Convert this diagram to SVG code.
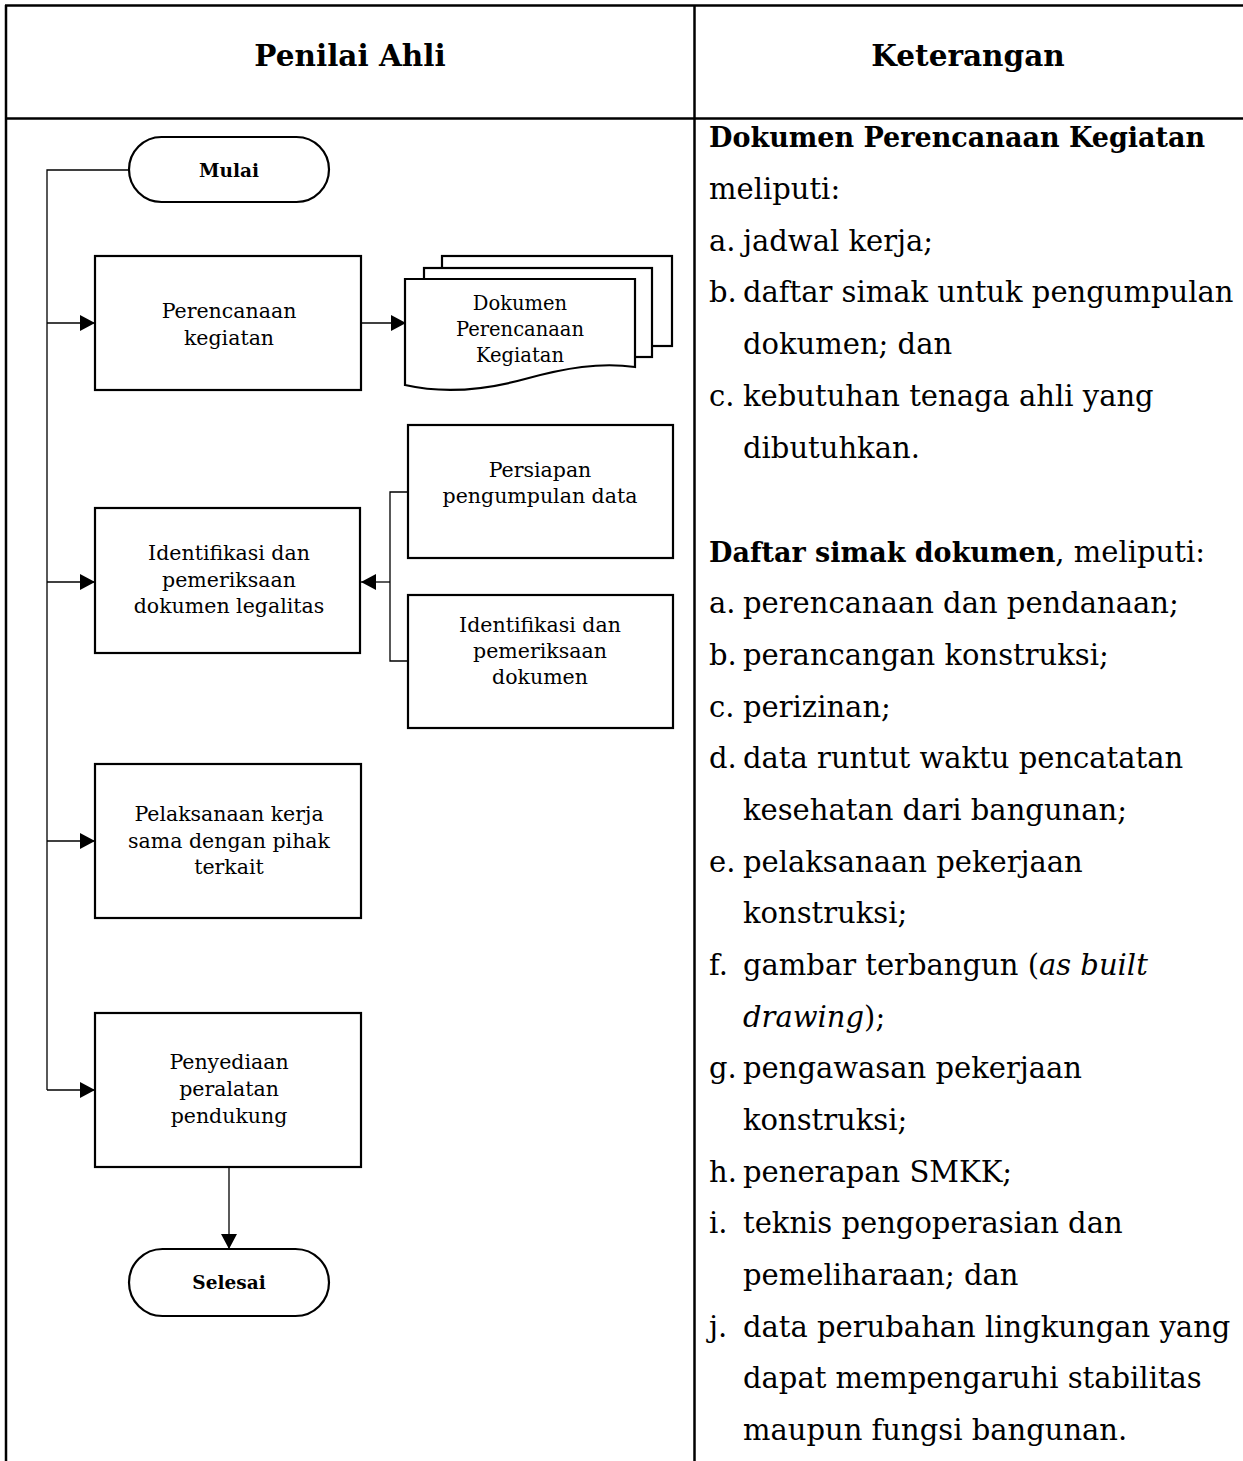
<svg xmlns="http://www.w3.org/2000/svg" width="1243" height="1461" viewBox="0 0 1243 1461">
<style>
.tbl{stroke:#000;stroke-width:2.5;fill:none}
.box{fill:#fff;stroke:#000;stroke-width:2.2}
.con{fill:none;stroke:#000;stroke-width:1.3}
.hd{font-family:"DejaVu Serif",serif;font-weight:bold;font-size:29.5px;text-anchor:middle}
.bt{font-family:"DejaVu Serif",serif;font-size:20.5px;text-anchor:middle}
.dt{font-family:"DejaVu Serif",serif;font-size:19.5px;text-anchor:middle}
.tb{font-family:"DejaVu Serif",serif;font-weight:bold;font-size:18.5px;text-anchor:middle}
.rt{font-family:"DejaVu Serif",serif;font-size:29px}
.b{font-weight:bold;font-size:27px}
.i{font-style:italic}
</style>
<defs>
<marker id="ah" markerUnits="userSpaceOnUse" markerWidth="15" markerHeight="16" refX="15" refY="8" orient="auto">
<path d="M0,0 L15,8 L0,16 Z" fill="#000"/>
</marker>
</defs>
<g id="table">
<line class="tbl" x1="5" y1="5.5" x2="1243" y2="5.5"/>
<line class="tbl" x1="5" y1="118.5" x2="1243" y2="118.5"/>
<line class="tbl" x1="6" y1="5" x2="6" y2="1461"/>
<line class="tbl" x1="694.5" y1="5" x2="694.5" y2="1461"/>
<text class="hd" x="350" y="66">Penilai Ahli</text>
<text class="hd" x="968" y="66">Keterangan</text>
</g>
<g id="connectors">
<path class="con" d="M129,170 H47 V1090"/>
<line class="con" x1="47" y1="323" x2="95" y2="323" marker-end="url(#ah)"/>
<line class="con" x1="47" y1="582" x2="95" y2="582" marker-end="url(#ah)"/>
<line class="con" x1="47" y1="841" x2="95" y2="841" marker-end="url(#ah)"/>
<line class="con" x1="47" y1="1090" x2="95" y2="1090" marker-end="url(#ah)"/>
<line class="con" x1="362" y1="323" x2="406" y2="323" marker-end="url(#ah)"/>
<path class="con" d="M408,492 H390 V661 H408"/>
<line class="con" x1="390" y1="582" x2="361" y2="582" marker-end="url(#ah)"/>
<line class="con" x1="229" y1="1167" x2="229" y2="1249" marker-end="url(#ah)"/>
</g>
<g id="mulai">
<rect class="box" x="129" y="137" width="200" height="65" rx="32.5"/>
<text class="tb" x="229" y="177">Mulai</text>
</g>
<g id="perencanaan">
<rect class="box" x="95" y="256" width="266" height="134"/>
<text class="bt" x="229" y="318">Perencanaan</text>
<text class="bt" x="229" y="344.5">kegiatan</text>
</g>
<g id="dokumen">
<rect class="box" x="442" y="256" width="230" height="90"/>
<rect class="box" x="424" y="268" width="228" height="89"/>
<path class="box" d="M405,279 H635 V367 C600,362 565,368 525,379 C485,390 445,394 405,385 Z"/>
<text class="dt" x="520" y="310">Dokumen</text>
<text class="dt" x="520" y="336">Perencanaan</text>
<text class="dt" x="520" y="362">Kegiatan</text>
</g>
<g id="persiapan">
<rect class="box" x="408" y="425" width="265" height="133"/>
<text class="bt" x="540" y="477">Persiapan</text>
<text class="bt" x="540" y="503">pengumpulan data</text>
</g>
<g id="identifikasi-dokumen">
<rect class="box" x="408" y="595" width="265" height="133"/>
<text class="bt" x="540" y="632">Identifikasi dan</text>
<text class="bt" x="540" y="658">pemeriksaan</text>
<text class="bt" x="540" y="684">dokumen</text>
</g>
<g id="identifikasi-legalitas">
<rect class="box" x="95" y="508" width="265" height="145"/>
<text class="bt" x="229" y="560">Identifikasi dan</text>
<text class="bt" x="229" y="586.5">pemeriksaan</text>
<text class="bt" x="229" y="613">dokumen legalitas</text>
</g>
<g id="pelaksanaan">
<rect class="box" x="95" y="764" width="266" height="154"/>
<text class="bt" x="229" y="821">Pelaksanaan kerja</text>
<text class="bt" x="229" y="847.5">sama dengan pihak</text>
<text class="bt" x="229" y="874">terkait</text>
</g>
<g id="penyediaan">
<rect class="box" x="95" y="1013" width="266" height="154"/>
<text class="bt" x="229" y="1069">Penyediaan</text>
<text class="bt" x="229" y="1096">peralatan</text>
<text class="bt" x="229" y="1123">pendukung</text>
</g>
<g id="selesai">
<rect class="box" x="129" y="1249" width="200" height="67" rx="33.5"/>
<text class="tb" x="229" y="1289">Selesai</text>
</g>
<g id="keterangan">
<text class="rt b" x="709" y="147">Dokumen Perencanaan Kegiatan</text>
<text class="rt" x="709" y="199">meliputi:</text>
<text class="rt" x="709" y="250.5">a.</text><text class="rt" x="743" y="250.5">jadwal kerja;</text>
<text class="rt" x="709" y="302">b.</text><text class="rt" x="743" y="302">daftar simak untuk pengumpulan</text>
<text class="rt" x="743" y="354">dokumen; dan</text>
<text class="rt" x="709" y="406">c.</text><text class="rt" x="743" y="406">kebutuhan tenaga ahli yang</text>
<text class="rt" x="743" y="457.5">dibutuhkan.</text>
<text class="rt" x="709" y="561.5"><tspan class="b">Daftar simak dokumen</tspan>, meliputi:</text>
<text class="rt" x="709" y="613">a.</text><text class="rt" x="743" y="613">perencanaan dan pendanaan;</text>
<text class="rt" x="709" y="665">b.</text><text class="rt" x="743" y="665">perancangan konstruksi;</text>
<text class="rt" x="709" y="716.5">c.</text><text class="rt" x="743" y="716.5">perizinan;</text>
<text class="rt" x="709" y="768">d.</text><text class="rt" x="743" y="768">data runtut waktu pencatatan</text>
<text class="rt" x="743" y="820">kesehatan dari bangunan;</text>
<text class="rt" x="709" y="871.5">e.</text><text class="rt" x="743" y="871.5">pelaksanaan pekerjaan</text>
<text class="rt" x="743" y="923">konstruksi;</text>
<text class="rt" x="709" y="975">f.</text><text class="rt" x="743" y="975">gambar terbangun (<tspan class="i">as built</tspan></text>
<text class="rt" x="743" y="1026.5"><tspan class="i">drawing</tspan>);</text>
<text class="rt" x="709" y="1078">g.</text><text class="rt" x="743" y="1078">pengawasan pekerjaan</text>
<text class="rt" x="743" y="1130">konstruksi;</text>
<text class="rt" x="709" y="1181.5">h.</text><text class="rt" x="743" y="1181.5">penerapan SMKK;</text>
<text class="rt" x="709" y="1233">i.</text><text class="rt" x="743" y="1233">teknis pengoperasian dan</text>
<text class="rt" x="743" y="1285">pemeliharaan; dan</text>
<text class="rt" x="709" y="1336.5">j.</text><text class="rt" x="743" y="1336.5">data perubahan lingkungan yang</text>
<text class="rt" x="743" y="1388">dapat mempengaruhi stabilitas</text>
<text class="rt" x="743" y="1440">maupun fungsi bangunan.</text>
</g>
</svg>
